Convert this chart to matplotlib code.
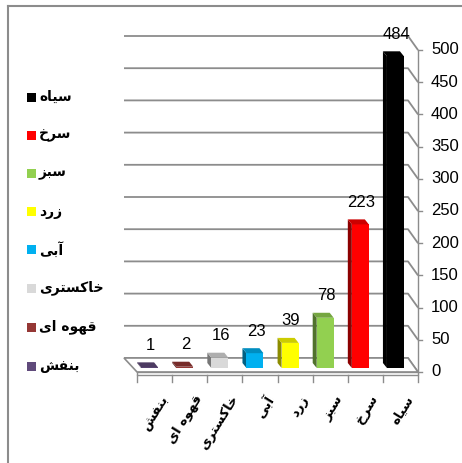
import matplotlib
matplotlib.use('Agg')
import matplotlib.pyplot as plt
from matplotlib.patches import Polygon, Rectangle
from matplotlib.lines import Line2D

# data (left to right on the chart)
categories = ['بنفش', 'قهوه ای', 'خاکستری', 'آبی', 'زرد', 'سبز', 'سرخ', 'سیاه']
values = [1, 2, 16, 23, 39, 78, 223, 484]
colors = ['#604A7B', '#953735', '#D9D9D9', '#00B0F0', '#FFFF00', '#92D050', '#FF0000', '#000000']
yticks = [0, 50, 100, 150, 200, 250, 300, 350, 400, 450, 500]

# arabic presentation forms: iso, fin, ini, med
FORMS = {
    'س': ('\uFEB1', '\uFEB2', '\uFEB3', '\uFEB4'),
    'ش': ('\uFEB5', '\uFEB6', '\uFEB7', '\uFEB8'),
    'ی': ('\uFEEF', '\uFEF0', '\uFEF3', '\uFEF4'),
    'ه': ('\uFEE9', '\uFEEA', '\uFEEB', '\uFEEC'),
    'خ': ('\uFEA5', '\uFEA6', '\uFEA7', '\uFEA8'),
    'ب': ('\uFE8F', '\uFE90', '\uFE91', '\uFE92'),
    'ک': ('\uFED9', '\uFEDA', '\uFEDB', '\uFEDC'),
    'ت': ('\uFE95', '\uFE96', '\uFE97', '\uFE98'),
    'ق': ('\uFED5', '\uFED6', '\uFED7', '\uFED8'),
    'ن': ('\uFEE5', '\uFEE6', '\uFEE7', '\uFEE8'),
    'ف': ('\uFED1', '\uFED2', '\uFED3', '\uFED4'),
    'ا': ('\uFE8D', '\uFE8E', None, None),
    'آ': ('\uFE81', '\uFE82', None, None),
    'ر': ('\uFEAD', '\uFEAE', None, None),
    'ز': ('\uFEAF', '\uFEB0', None, None),
    'د': ('\uFEA9', '\uFEAA', None, None),
    'و': ('\uFEED', '\uFEEE', None, None),
}


def shape(word):
    out = []
    for i, ch in enumerate(word):
        if ch not in FORMS:
            out.append(ch)
            continue
        prev = word[i - 1] if i > 0 else None
        nxt = word[i + 1] if i + 1 < len(word) else None
        join_prev = prev in FORMS and FORMS[prev][2] is not None
        join_next = nxt in FORMS and FORMS[ch][2] is not None
        f = FORMS[ch]
        if join_prev and join_next:
            out.append(f[3])
        elif join_prev:
            out.append(f[1])
        elif join_next:
            out.append(f[2])
        else:
            out.append(f[0])
    return ''.join(reversed(out))


def darker(c, k):
    r, g, b = matplotlib.colors.to_rgb(c)
    return (r * k, g * k, b * k)


num_font = ['Liberation Sans', 'DejaVu Sans']
fa_font = ['DejaVu Sans']

fig = plt.figure(figsize=(4.62, 4.63), dpi=100)
W, H = 462, 463
ax = fig.add_axes([124 / W, (H - 372) / H, (418 - 124) / W, (372 - 28) / H])
ax.set_xlim(-0.371, 8.0)
ax.set_ylim(0, 344 / 0.644)
ax.axis('off')

px = (8.0 + 0.371) / (418 - 124)   # x units per pixel
py = 1 / 0.644                      # y units per pixel

bdx, bdy = -10 * px, 14 * py       # back wall offset
cdx, cdy = -5 * px, 4 * py         # bar position in depth
sdx, sdy = -4 * px, 5 * py         # bar depth
bw = 17 * px
n = len(categories)
grid_c = '#8c8c8c'

# back wall gridlines + diagonals to the right axis
for v in yticks:
    ax.plot([-0.371, n + bdx, n], [v + bdy, v + bdy, v], color=grid_c, lw=1.3,
            clip_on=False, zorder=1, solid_capstyle='butt')
    ax.plot([n, n + 4 * px], [v, v], color=grid_c, lw=1, clip_on=False, zorder=1)
    ax.text(n + 13 * px, v, str(v), fontsize=12, family=num_font, ha='left', va='center')
ax.plot([n, n], [0, yticks[-1]], color=grid_c, lw=1, clip_on=False, zorder=1)

# floor slab
floor = Polygon([(0, 0), (n, 0), (n + bdx, bdy), (-0.371, bdy)], closed=True,
                facecolor='white', edgecolor=grid_c, lw=1.2, zorder=2, clip_on=False)
ax.add_patch(floor)
ax.add_patch(Rectangle((0, -3 * py), n, 3 * py, facecolor='white', edgecolor=grid_c,
                       lw=1, zorder=2, clip_on=False))
for i in range(n + 1):
    ax.plot([i, i], [-3 * py, -10 * py], color=grid_c, lw=1, clip_on=False, zorder=2)

# bars
xs = [i + 0.5 + cdx for i in range(n)]
ax.bar(xs, values, bottom=cdy, width=bw, color=colors, zorder=4)
for x, v, c in zip(xs, values, colors):
    xl = x - bw / 2
    b, t = cdy, cdy + v
    ax.add_patch(Polygon([(xl, b), (xl, t), (xl + sdx, t + sdy), (xl + sdx, b + sdy)],
                         closed=True, facecolor=darker(c, 0.55), edgecolor='none', zorder=3))
    ax.add_patch(Polygon([(xl, t), (xl + bw, t), (xl + bw + sdx, t + sdy), (xl + sdx, t + sdy)],
                         closed=True, facecolor=darker(c, 0.8), edgecolor='none', zorder=4))
    ax.text(x + 1 * px, t + 22 * py, str(v), fontsize=12, family=num_font, ha='center',
            va='center', zorder=5)

# category labels
for i, name in enumerate(categories):
    ax.text(i + 0.5 + 0.13, -21 * py, shape(name), fontsize=9.5, family=fa_font,
            fontweight='bold', rotation=58, ha='right', va='top', rotation_mode='anchor')

# legend (reverse order, top = largest)
leg_y = [97, 135, 173, 212, 250, 288, 327, 366]
for yy, name, c in zip(leg_y, categories[::-1], colors[::-1]):
    fig.add_artist(Rectangle((27 / W, 1 - (yy + 4.5) / H), 9 / W, 9 / H,
                             transform=fig.transFigure, facecolor=c, edgecolor='none'))
    fig.text(39 / W, 1 - yy / H, shape(name), fontsize=10, family=fa_font,
             fontweight='bold', ha='left', va='center')

# chart border
fig.add_artist(Line2D([8 / W, 1], [1 - 6 / H, 1 - 6 / H], color=grid_c, lw=1.5))
fig.add_artist(Line2D([8 / W, 8 / W], [0, 1 - 6 / H], color=grid_c, lw=1.5))

fig.savefig('out.png', dpi=100)
